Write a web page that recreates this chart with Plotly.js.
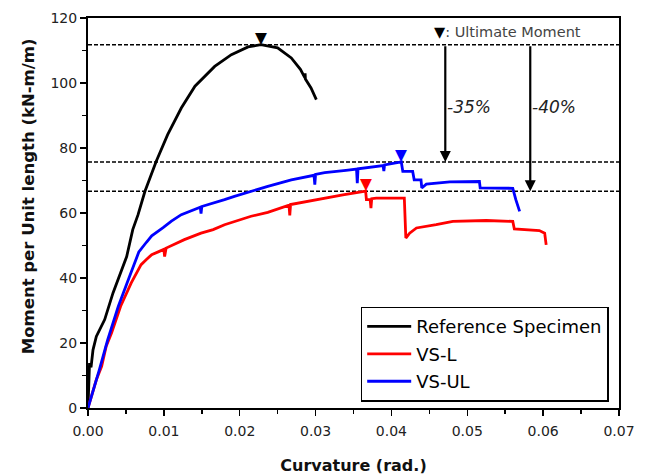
<!DOCTYPE html>
<html>
<head>
<meta charset="utf-8">
<script src="https://cdn.plot.ly/plotly-3.0.1.min.js"></script>
<style>html,body{margin:0;padding:0;background:#fff;}#chart{width:652px;height:476px;}</style>
</head>
<body>
<div id="chart"></div>
<script>
// ---- Data ----
const seriesNames = ["Reference Specimen", "VS-L", "VS-UL"];

const curvRef = [0, 0.0001, 0.0002, 0.0004, 0.00066, 0.0011, 0.0022, 0.0033, 0.0042, 0.0051, 0.0059, 0.0066, 0.0075, 0.0090, 0.0105, 0.0123, 0.0141, 0.0167, 0.0189, 0.0211, 0.0228, 0.0250, 0.0268, 0.0280, 0.0286, 0.02862, 0.02866, 0.0294, 0.0301];
const momRef  = [0, 5, 13.8, 12.5, 17.9, 22, 27.2, 35.4, 41, 46.6, 54.9, 59.5, 66.6, 75.9, 84.1, 92.3, 99.0, 105.1, 108.7, 111.1, 111.8, 110.8, 107.7, 104.2, 101.6, 103.0, 101.2, 98.5, 94.9];

const curvL = [0, 0.0011, 0.0018, 0.0024, 0.0031, 0.0043, 0.0057, 0.0070, 0.0077, 0.0084, 0.0094, 0.0100, 0.0101, 0.0102, 0.0103, 0.0127, 0.0149, 0.0165, 0.0180, 0.0215, 0.0237, 0.0265, 0.0266, 0.0267, 0.0301, 0.0336, 0.0366, 0.0367, 0.0372, 0.0373, 0.0374, 0.0380, 0.0417, 0.0419, 0.0424, 0.0433, 0.0459, 0.0481, 0.0525, 0.0560, 0.0562, 0.0595, 0.0602, 0.0604];
const momL  = [0, 8.7, 12.8, 19, 23.1, 31.3, 38.5, 44.1, 45.7, 47.2, 48.2, 48.8, 46.6, 49.0, 49.2, 51.8, 53.8, 54.9, 56.4, 59.0, 60.2, 62.4, 59.3, 62.6, 64.1, 65.6, 66.7, 64.1, 64.1, 61.5, 64.4, 64.6, 64.6, 52.3, 53.8, 55.4, 56.4, 57.4, 57.7, 57.4, 55.1, 54.6, 53.8, 50.2];

const curvUL = [0, 0.0013, 0.0015, 0.0026, 0.0033, 0.0040, 0.0052, 0.0067, 0.0077, 0.0084, 0.0099, 0.0110, 0.0123, 0.0145, 0.0148, 0.0149, 0.0150, 0.0180, 0.0193, 0.0237, 0.0268, 0.0298, 0.0299, 0.0300, 0.0312, 0.0340, 0.0354, 0.0355, 0.0356, 0.0389, 0.0390, 0.0391, 0.0413, 0.0415, 0.0428, 0.0430, 0.0439, 0.0440, 0.0446, 0.0477, 0.0516, 0.0517, 0.0560, 0.0564, 0.0567, 0.0569];
const momUL  = [0, 9.7, 11.8, 21, 26.1, 31.3, 38.8, 48, 51, 53, 55.5, 57.5, 59.5, 61.5, 61.8, 59.8, 62.0, 64.1, 65.1, 68.2, 70.2, 71.6, 68.7, 71.9, 72.4, 73.1, 73.5, 69.2, 73.6, 74.6, 72.9, 74.8, 75.7, 72.8, 72.8, 70.2, 70.2, 67.7, 68.9, 69.6, 69.7, 67.7, 67.6, 64.1, 62.0, 60.5];

const xTickVals = [0, 0.01, 0.02, 0.03, 0.04, 0.05, 0.06, 0.07];
const xTickText = ["0.00", "0.01", "0.02", "0.03", "0.04", "0.05", "0.06", "0.07"];
const pctLabels = ["-35%", "-40%"];

// ---- Derived: ultimate moments ----
function ultimate(xs, ys) {
  let k = 0;
  for (let i = 1; i < ys.length; i++) if (ys[i] > ys[k]) k = i;
  return {x: xs[k], y: ys[k]};
}
const ultRef = ultimate(curvRef, momRef);
const ultL = ultimate(curvL, momL);
const ultUL = ultimate(curvUL, momUL);

const colors = ["#000000", "#ff0000", "#0000ff"];
const lineW = 2.8;

const traces = [
  {x: curvRef, y: momRef, name: seriesNames[0], legendgroup: "a", mode: "lines", line: {color: colors[0], width: lineW}},
  {x: curvL, y: momL, name: seriesNames[1], legendgroup: "b", mode: "lines", line: {color: colors[1], width: lineW}},
  {x: curvUL, y: momUL, name: seriesNames[2], legendgroup: "c", mode: "lines", line: {color: colors[2], width: lineW}}
];

const dotted = {color: "#000", width: 1.5, dash: "4px,2px"};
const shapes = [ultRef, ultUL, ultL].map(u => ({
  type: "line", xref: "paper", x0: 0, x1: 1, yref: "y", y0: u.y, y1: u.y, line: dotted, layer: "below"
}));

const arrow35X = 0.0471, arrow40X = 0.0583;
const labelY = 92.7;
const annFont = {family: "DejaVu Sans", size: 17, color: "#222"};

const annotations = [
  {x: arrow35X, y: ultUL.y, ax: arrow35X, ay: ultRef.y, xref: "x", yref: "y", axref: "x", ayref: "y",
   text: "", showarrow: true, arrowhead: 2, arrowsize: 1, arrowwidth: 2.2, arrowcolor: "#000", standoff: 0},
  {x: arrow40X, y: ultL.y, ax: arrow40X, ay: ultRef.y, xref: "x", yref: "y", axref: "x", ayref: "y",
   text: "", showarrow: true, arrowhead: 2, arrowsize: 1, arrowwidth: 2.2, arrowcolor: "#000", standoff: 0},
  {x: arrow35X, y: labelY, xref: "x", yref: "y", xanchor: "left", yanchor: "middle", showarrow: false,
   text: "<i>" + pctLabels[0] + "</i>", font: annFont},
  {x: arrow40X, y: labelY, xref: "x", yref: "y", xanchor: "left", yanchor: "middle", showarrow: false,
   text: "<i>" + pctLabels[1] + "</i>", font: annFont},
  {x: 0.0454, y: 115.7, xref: "x", yref: "y", xanchor: "left", yanchor: "middle", showarrow: false,
   text: "<span style='color:#000'>▼</span>: Ultimate Moment", font: {family: "DejaVu Sans", size: 14.5, color: "#444"}},
  {x: -0.113, y: 0.543, xref: "paper", yref: "paper", xanchor: "center", yanchor: "middle", showarrow: false,
   textangle: -90, text: "<b>Moment per Unit length (kN-m/m)</b>", font: {family: "DejaVu Sans", size: 16.5, color: "#111"}}
];
[ultRef, ultL, ultUL].forEach((u, i) => {
  annotations.push({x: u.x, y: u.y, xref: "x", yref: "y", xanchor: "center", yanchor: "bottom", yshift: -4,
    showarrow: false, text: "▼", font: {family: "DejaVu Sans", size: 15.5, color: colors[i]}});
});

const axisCommon = {
  showline: true, linewidth: 2, linecolor: "#000", mirror: true,
  ticks: "outside", ticklen: 6, tickwidth: 1.5, tickcolor: "#000",
  showgrid: false, zeroline: false,
  tickfont: {family: "DejaVu Sans", size: 14, color: "#222"}
};

const layout = {
  width: 652, height: 476,
  margin: {l: 88, r: 33, t: 18, b: 68},
  paper_bgcolor: "#fff", plot_bgcolor: "#fff",
  showlegend: true,
  legend: {x: 0.9806, y: 0.016, xanchor: "right", yanchor: "bottom", bgcolor: "#fff",
    bordercolor: "#000", borderwidth: 1.5, tracegroupgap: 1, itemwidth: 44,
    font: {family: "DejaVu Sans", size: 18, color: "#000"}},
  xaxis: Object.assign({}, axisCommon, {
    range: [0, 0.07], tickvals: xTickVals, ticktext: xTickText, ticklabelstandoff: 3,
    minor: {dtick: 0.005, ticks: "outside", ticklen: 4, tickwidth: 1.5, tickcolor: "#000"},
    title: {text: "<b>Curvature (rad.)</b>", standoff: 22, font: {family: "DejaVu Sans", size: 16, color: "#111"}}
  }),
  yaxis: Object.assign({}, axisCommon, {
    range: [0, 120], dtick: 20,
    minor: {dtick: 10, ticks: "outside", ticklen: 4, tickwidth: 1.5, tickcolor: "#000"}
  }),
  shapes: shapes,
  annotations: annotations
};

Plotly.newPlot("chart", traces, layout, {displayModeBar: false, staticPlot: true});
</script>
</body>
</html>
